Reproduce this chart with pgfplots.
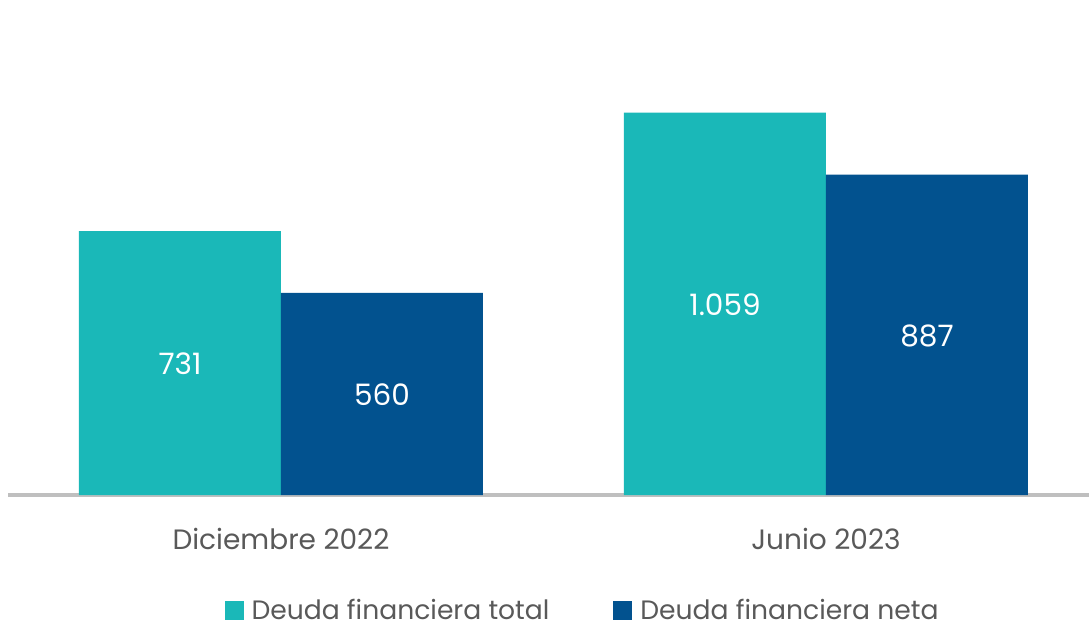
\documentclass[border=0pt]{standalone}
\usepackage{pgfplots}
\pgfplotsset{compat=1.18}
\usepackage{fontspec}
\setmainfont{Poppins}
\definecolor{tealc}{HTML}{1AB8B8}
\definecolor{bluec}{HTML}{02528F}
\definecolor{txt}{HTML}{595959}
\definecolor{axl}{HTML}{BFBFBF}
\newcommand{\tickfont}{\fontsize{28bp}{32bp}\selectfont}
\newcommand{\legfont}{\fontsize{26.6bp}{30bp}\selectfont}
\newcommand{\barfont}{\fontsize{29.5bp}{33bp}\selectfont}
\begin{document}
\begin{tikzpicture}
\begin{axis}[name=ax,
  scale only axis, width=1081bp, height=495bp,
  xmin=-0.5009, xmax=1.4826, ymin=0, ymax=1371,
  axis x line=bottom, hide y axis,
  axis line style={-, draw=axl, line width=4.5bp},
  xtick={0,1}, xticklabels={Diciembre 2022, Junio 2023},
  xtick style={draw=none},
  xticklabel style={font=\tickfont, text=txt, yshift=-28bp},
  ytick=\empty,
  clip=false,
  legend columns=2,
  legend style={draw=none, fill=none, at={(0.5315,-0.2334)}, anchor=center,
    font=\legfont, text=txt, nodes={inner ysep=0pt},
    /tikz/every even column/.append style={column sep=62bp}},
  legend image code/.code={\fill[#1] (0bp,-9.5bp) rectangle (19bp,9.5bp); \path (25bp,0bp);},
]
\addplot[ybar, bar width=202bp, bar shift=-101bp, fill=tealc, draw=none]
  coordinates {(0,731) (1,1059)};
\addlegendentry{Deuda financiera total}
\addplot[ybar, bar width=202bp, bar shift=101bp, fill=bluec, draw=none]
  coordinates {(0,560) (1,887)};
\addlegendentry{Deuda financiera neta}
\addplot[draw=none, forget plot, nodes near coords, point meta=explicit symbolic,
  nodes near coords style={anchor=center, text=white, font=\barfont, xshift=-101bp}]
  coordinates {(0,363) [731] (1,527) [1.059]};
\addplot[draw=none, forget plot, nodes near coords, point meta=explicit symbolic,
  nodes near coords style={anchor=center, text=white, font=\barfont, xshift=101bp}]
  coordinates {(0,278) [560] (1,441) [887]};
\end{axis}
\pgfresetboundingbox
\path[use as bounding box] ([xshift=-8bp,yshift=-128bp]ax.south west) rectangle (ax.north east);
\end{tikzpicture}
\end{document}
